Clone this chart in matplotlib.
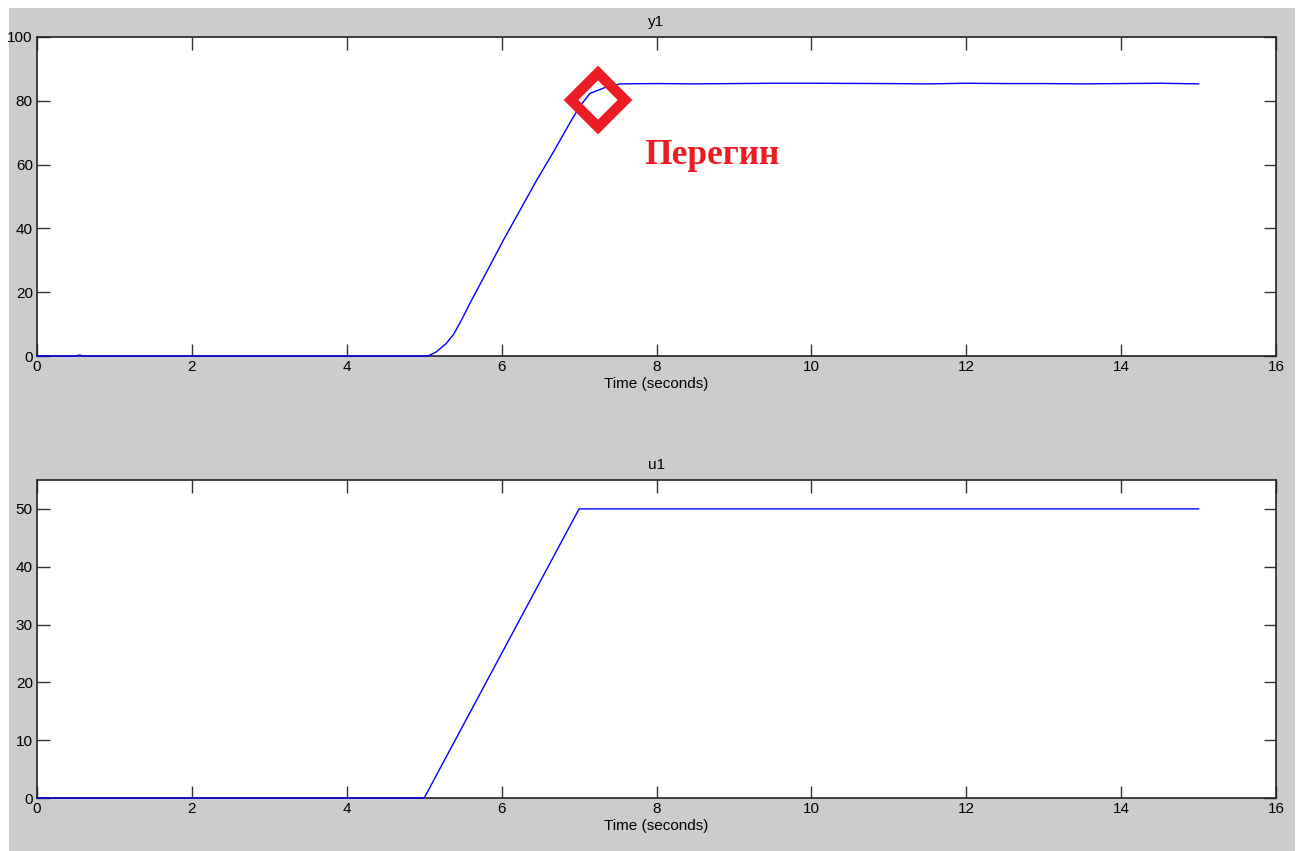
"""Recreate the Simulink scope screenshot: y1 response and u1 ramp input."""

import matplotlib

matplotlib.use("Agg")
import matplotlib.pyplot as plt
from matplotlib.patches import Rectangle

# y1 response
y1_time = [0.0, 0.5, 0.55, 0.6, 3.0, 5.05, 5.15, 5.28, 5.38, 5.48, 5.59, 5.81, 6.02,
           6.24, 6.45, 6.67, 6.88, 7.01, 7.14, 7.36, 7.53, 8.0, 8.5, 9.0, 9.5, 10.0,
           11.0, 11.5, 12.0, 12.5, 13.0, 13.5, 14.0, 14.5, 15.0]
y1_value = [0.0, 0.0, 0.3, 0.0, 0.0, 0.0, 1.2, 3.8, 6.8, 11.2, 16.5, 26.5, 36.2,
            45.8, 55.0, 64.0, 73.0, 78.3, 82.3, 84.4, 85.3, 85.4, 85.3, 85.4, 85.5,
            85.5, 85.4, 85.3, 85.5, 85.4, 85.4, 85.3, 85.4, 85.5, 85.3]

# u1 ramp input
u1_time = [0.0, 5.0, 7.0, 15.0]
u1_value = [0.0, 0.0, 50.0, 50.0]

x_ticks = [0, 2, 4, 6, 8, 10, 12, 14, 16]
y1_ticks = [0, 20, 40, 60, 80, 100]
u1_ticks = [0, 10, 20, 30, 40, 50]

# hand-drawn annotation on the screenshot
mark_point = (7.24, 80.2)
mark_text = "Перегин"
mark_text_pos = (7.84, 60.3)

plt.rcParams["font.family"] = ["Liberation Sans", "DejaVu Sans"]
plt.rcParams["font.size"] = 11

fig = plt.figure(figsize=(13, 8.51), dpi=100, facecolor="white")
fig.patches.append(
    Rectangle((9 / 1300, 0), 1286 / 1300, 843 / 851, transform=fig.transFigure,
              facecolor="#cccccc", edgecolor="none", zorder=-10)
)

ax_top = fig.add_axes([37 / 1300, 495 / 851, 1239 / 1300, 319 / 851])
ax_bot = fig.add_axes([37 / 1300, 53 / 851, 1239 / 1300, 318 / 851])

panels = [
    (ax_top, y1_time, y1_value, "y1", (0, 100), y1_ticks),
    (ax_bot, u1_time, u1_value, "u1", (0, 55), u1_ticks),
]
for ax, t, v, title, ylim, yticks in panels:
    ax.set_facecolor("white")
    ax.plot(t, v, color="#0000ff", linewidth=1.0, clip_on=False, zorder=3)
    ax.set_xlim(0, 16)
    ax.set_ylim(*ylim)
    ax.set_xticks(x_ticks)
    ax.set_yticks(yticks)
    ax.tick_params(direction="in", length=9, width=1.0, color="#333333",
                   top=True, right=True, labelsize=11, pad=3)
    for spine in ax.spines.values():
        spine.set_color("#222222")
        spine.set_linewidth(1.2)
    ax.set_title(title, fontsize=11, pad=8)
    ax.set_xlabel("Time (seconds)", fontsize=11, labelpad=2)

ax_top.plot([mark_point[0]], [mark_point[1]], marker="D", markersize=28,
            markerfacecolor="none", markeredgecolor="#ed1c24",
            markeredgewidth=7.5, zorder=4)
ax_top.text(mark_text_pos[0], mark_text_pos[1], mark_text, color="#ed1c24",
            fontsize=25.5, fontweight="bold", family=["Liberation Serif", "DejaVu Serif"],
            ha="left", va="baseline", zorder=5)

fig.savefig("out.png", dpi=100, facecolor=fig.get_facecolor())
plt.close(fig)
